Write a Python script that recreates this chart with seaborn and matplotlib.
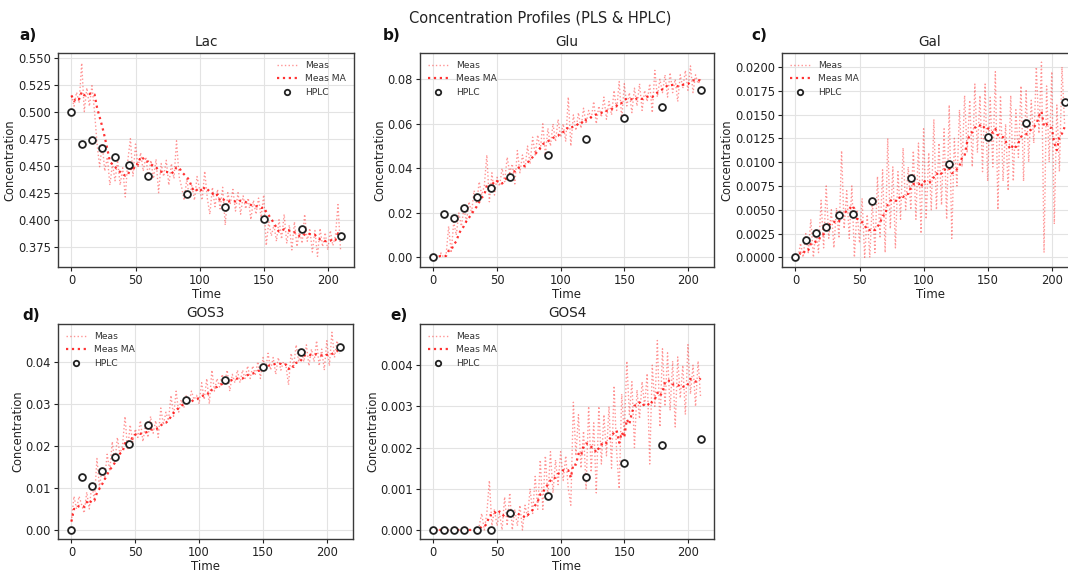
import numpy as np
import pandas as pd
import matplotlib
matplotlib.use("Agg")
import matplotlib.pyplot as plt
import seaborn as sns

# ---- data -------------------------------------------------------------
species = ["Lac", "Glu", "Gal", "GOS3", "GOS4"]
panel_tags = ["a)", "b)", "c)", "d)", "e)"]

meas_time = np.arange(0, 211, 2)
hplc_time = [0, 8, 16, 24, 34, 45, 60, 90, 120, 150, 180, 210]

lac_meas = [
    0.515, 0.505, 0.518, 0.508, 0.545, 0.500, 0.522, 0.505, 0.524, 0.500,
    0.470, 0.449, 0.470, 0.445, 0.458, 0.432, 0.452, 0.436, 0.455, 0.432,
    0.448, 0.421, 0.455, 0.475, 0.440, 0.470, 0.448, 0.462, 0.445, 0.458,
    0.440, 0.455, 0.438, 0.456, 0.425, 0.452, 0.440, 0.455, 0.432, 0.452,
    0.438, 0.473, 0.440, 0.430, 0.418, 0.438, 0.420, 0.432, 0.418, 0.440,
    0.428, 0.418, 0.445, 0.420, 0.405, 0.430, 0.412, 0.428, 0.410, 0.430,
    0.395, 0.425, 0.415, 0.428, 0.408, 0.425, 0.405, 0.422, 0.410, 0.420,
    0.400, 0.418, 0.405, 0.420, 0.402, 0.423, 0.376, 0.398, 0.385, 0.395,
    0.380, 0.400, 0.382, 0.405, 0.378, 0.395, 0.372, 0.398, 0.375, 0.390,
    0.378, 0.405, 0.380, 0.392, 0.370, 0.390, 0.366, 0.392, 0.375, 0.388,
    0.372, 0.390, 0.376, 0.385, 0.414, 0.372,
]
glu_meas = [
    0.000, 0.001, 0.000, 0.002, 0.000, 0.001, 0.014, 0.002, 0.016, 0.010,
    0.020, 0.014, 0.022, 0.016, 0.025, 0.020, 0.030, 0.024, 0.034, 0.028,
    0.032, 0.046, 0.025, 0.038, 0.028, 0.036, 0.032, 0.040, 0.034, 0.045,
    0.038, 0.042, 0.033, 0.048, 0.038, 0.046, 0.040, 0.050, 0.042, 0.054,
    0.046, 0.055, 0.048, 0.060, 0.046, 0.058, 0.050, 0.060, 0.052, 0.062,
    0.054, 0.060, 0.052, 0.072, 0.050, 0.064, 0.057, 0.065, 0.058, 0.067,
    0.060, 0.066, 0.062, 0.070, 0.060, 0.068, 0.063, 0.072, 0.062, 0.070,
    0.064, 0.075, 0.066, 0.079, 0.062, 0.078, 0.068, 0.074, 0.065, 0.076,
    0.068, 0.078, 0.066, 0.075, 0.070, 0.078, 0.065, 0.084, 0.072, 0.080,
    0.074, 0.082, 0.072, 0.083, 0.074, 0.080, 0.070, 0.082, 0.076, 0.084,
    0.075, 0.086, 0.074, 0.082, 0.078, 0.080,
]
gal_meas = [
    0.0000, 0.0000, 0.0015, 0.0000, 0.0025, 0.0005, 0.0040, 0.0000, 0.0030, 0.0005,
    0.0060, 0.0010, 0.0075, 0.0020, 0.0050, 0.0010, 0.0052, 0.0020, 0.0112, 0.0030,
    0.0070, 0.0020, 0.0075, 0.0000, 0.0050, 0.0015, 0.0062, 0.0000, 0.0045, 0.0000,
    0.0060, 0.0005, 0.0085, 0.0020, 0.0092, 0.0005, 0.0125, 0.0030, 0.0095, 0.0010,
    0.0090, 0.0040, 0.0115, 0.0050, 0.0095, 0.0050, 0.0112, 0.0040, 0.0120, 0.0025,
    0.0135, 0.0040, 0.0110, 0.0050, 0.0145, 0.0050, 0.0120, 0.0055, 0.0135, 0.0040,
    0.0160, 0.0020, 0.0125, 0.0075, 0.0155, 0.0095, 0.0170, 0.0110, 0.0165, 0.0095,
    0.0182, 0.0110, 0.0170, 0.0090, 0.0182, 0.0080, 0.0168, 0.0095, 0.0195, 0.0050,
    0.0170, 0.0080, 0.0140, 0.0070, 0.0170, 0.0080, 0.0155, 0.0105, 0.0180, 0.0080,
    0.0175, 0.0100, 0.0165, 0.0120, 0.0200, 0.0130, 0.0205, 0.0005, 0.0180, 0.0100,
    0.0195, 0.0035, 0.0160, 0.0090, 0.0200, 0.0140,
]
gos3_meas = [
    0.002, 0.008, 0.005, 0.008, 0.006, 0.004, 0.009, 0.005, 0.011, 0.007,
    0.017, 0.010, 0.015, 0.012, 0.018, 0.014, 0.021, 0.016, 0.022, 0.018,
    0.020, 0.027, 0.019, 0.025, 0.021, 0.024, 0.022, 0.026, 0.021, 0.025,
    0.022, 0.027, 0.023, 0.026, 0.022, 0.029, 0.025, 0.028, 0.026, 0.032,
    0.027, 0.033, 0.028, 0.031, 0.029, 0.032, 0.030, 0.033, 0.031, 0.032,
    0.030, 0.035, 0.031, 0.036, 0.030, 0.038, 0.033, 0.036, 0.034, 0.037,
    0.035, 0.038, 0.033, 0.037, 0.035, 0.038, 0.035, 0.038, 0.036, 0.039,
    0.036, 0.039, 0.037, 0.040, 0.036, 0.041, 0.038, 0.042, 0.038, 0.041,
    0.037, 0.041, 0.038, 0.040, 0.039, 0.0345, 0.042, 0.039, 0.044, 0.040,
    0.043, 0.040, 0.044, 0.039, 0.043, 0.040, 0.045, 0.039, 0.043, 0.038,
    0.045, 0.039, 0.047, 0.041, 0.045, 0.042,
]
gos4_meas = [
    0.0, 0.0, 0.0, 0.0, 0.0, 0.0, 0.0, 0.0, 0.0, 0.0,
    0.0, 0.0, 0.0, 0.0, 0.0, 0.0, 0.0, 0.0, 0.0001, 0.0004,
    0.0000, 0.0004, 0.0012, 0.0001, 0.0005, 0.0001, 0.0004, 0.0000, 0.0008, 0.0001,
    0.0009, 0.0000, 0.0005, 0.0001, 0.0006, 0.0000, 0.0006, 0.0003, 0.0010, 0.0004,
    0.0013, 0.0005, 0.0017, 0.0005, 0.0018, 0.0008, 0.0019, 0.0009, 0.0017, 0.0011,
    0.0019, 0.0012, 0.0018, 0.0010, 0.0006, 0.0031, 0.0018, 0.0028, 0.0015, 0.0024,
    0.0010, 0.0030, 0.0014, 0.0026, 0.0009, 0.0030, 0.0016, 0.0028, 0.0018, 0.0030,
    0.0015, 0.0035, 0.0019, 0.0010, 0.0033, 0.0023, 0.0041, 0.0028, 0.0036, 0.0020,
    0.0034, 0.0027, 0.0036, 0.0030, 0.0038, 0.0016, 0.0040, 0.0030, 0.0046, 0.0025,
    0.0044, 0.0030, 0.0043, 0.0029, 0.0041, 0.0025, 0.0042, 0.0032, 0.0040, 0.0028,
    0.0045, 0.0033, 0.0040, 0.0030, 0.0041, 0.0032,
]

lac_hplc = [0.500, 0.470, 0.474, 0.466, 0.458, 0.451, 0.440, 0.424, 0.412, 0.401, 0.391, 0.385]
glu_hplc = [0.0, 0.0195, 0.0175, 0.022, 0.027, 0.031, 0.036, 0.046, 0.053, 0.0625, 0.0675, 0.075]
gal_hplc = [0.0, 0.0018, 0.0026, 0.0032, 0.0044, 0.0046, 0.0059, 0.0083, 0.0098, 0.0126, 0.0141, 0.0163]
gos3_hplc = [0.0, 0.0125, 0.0105, 0.014, 0.0173, 0.0205, 0.025, 0.031, 0.0357, 0.0387, 0.0422, 0.0434]
gos4_hplc = [0.0, 0.0, 0.0, 0.0, 0.0, 0.0, 0.00042, 0.00082, 0.00128, 0.00163, 0.00207, 0.0022]

meas_series = [lac_meas, glu_meas, gal_meas, gos3_meas, gos4_meas]
hplc_series = [lac_hplc, glu_hplc, gal_hplc, gos3_hplc, gos4_hplc]

# ---- style ------------------------------------------------------------
sns.set_theme(style="whitegrid")
plt.rcParams["font.family"] = ["DejaVu Sans"]

W, H = 1068, 573
fig = plt.figure(figsize=(W / 100, H / 100), dpi=100)
fig.patch.set_facecolor("white")

# axes boxes in pixels: left, top, right, bottom
boxes = [
    (58, 53, 354, 267),
    (420, 53, 714, 267),
    (782, 53, 1078, 267),
    (58, 324, 353, 539),
    (420, 324, 714, 539),
]
ylims = [
    (0.3562, 0.5543),
    (-0.0043, 0.0918),
    (-0.00101, 0.02146),
    (-0.00214, 0.04896),
    (-0.00022, 0.0050),
]
yticks = [
    np.arange(0.375, 0.5501, 0.025),
    np.arange(0.0, 0.0801, 0.02),
    np.arange(0.0, 0.02001, 0.0025),
    np.arange(0.0, 0.0401, 0.01),
    np.arange(0.0, 0.00401, 0.001),
]
yfmt = ["{:.3f}", "{:.2f}", "{:.4f}", "{:.2f}", "{:.3f}"]
tag_pos = [(28, 35), (392, 36), (759, 36), (31, 315), (399, 315)]
legend_loc = ["upper right", "upper left", "upper left", "upper left", "upper left"]

for i, name in enumerate(species):
    l, t, r, b = boxes[i]
    ax = fig.add_axes([l / W, 1 - b / H, (r - l) / W, (b - t) / H])
    ax.set_facecolor("white")

    df = pd.DataFrame({"Time": meas_time, "Meas": meas_series[i]})
    df["MA"] = df["Meas"].rolling(6, min_periods=1).mean()

    sns.lineplot(data=df, x="Time", y="Meas", ax=ax, color="red", alpha=0.42,
                 linewidth=1.0, linestyle=":", label="Meas")
    sns.lineplot(data=df, x="Time", y="MA", ax=ax, color="red", alpha=0.8,
                 linewidth=1.6, linestyle=":", label="Meas MA")
    sns.scatterplot(x=hplc_time, y=hplc_series[i], ax=ax, color="white",
                    edgecolor="#222222", linewidth=1.3, s=24, zorder=5,
                    label="HPLC")

    ax.set_xlim(-10.5, 220.5)
    ax.set_ylim(*ylims[i])
    ax.set_xticks([0, 50, 100, 150, 200])
    ax.set_yticks(yticks[i])
    ax.set_yticklabels([yfmt[i].format(v) for v in yticks[i]])
    ax.tick_params(labelsize=8.3, colors="#222222", length=3, width=0.8,
                   left=True, bottom=True, pad=2)
    ax.grid(True, color="#e3e3e3", linewidth=0.8)
    for sp in ax.spines.values():
        sp.set_color("#3a3a3a")
        sp.set_linewidth(1.0)

    ax.set_title(name, fontsize=9.8, color="#222222", pad=5)
    ax.set_xlabel("Time", fontsize=8.5, color="#222222", labelpad=1)
    ax.set_ylabel("Concentration", fontsize=8.3, color="#222222", labelpad=1)

    leg = ax.legend(loc=legend_loc[i], frameon=False, fontsize=6.6,
                    handlelength=2.2, borderaxespad=0.5, labelspacing=0.45,
                    markerscale=0.8)
    for txt in leg.get_texts():
        txt.set_color("#333333")

    tx, ty = tag_pos[i]
    fig.text(tx / W, 1 - ty / H, panel_tags[i], fontsize=11, fontweight="bold",
             ha="center", va="center", color="#111111")

fig.text(0.506, 1 - 18 / H, "Concentration Profiles (PLS & HPLC)",
         fontsize=10.5, ha="center", va="center", color="#222222")

fig.savefig("out.png", dpi=100, facecolor="white")
